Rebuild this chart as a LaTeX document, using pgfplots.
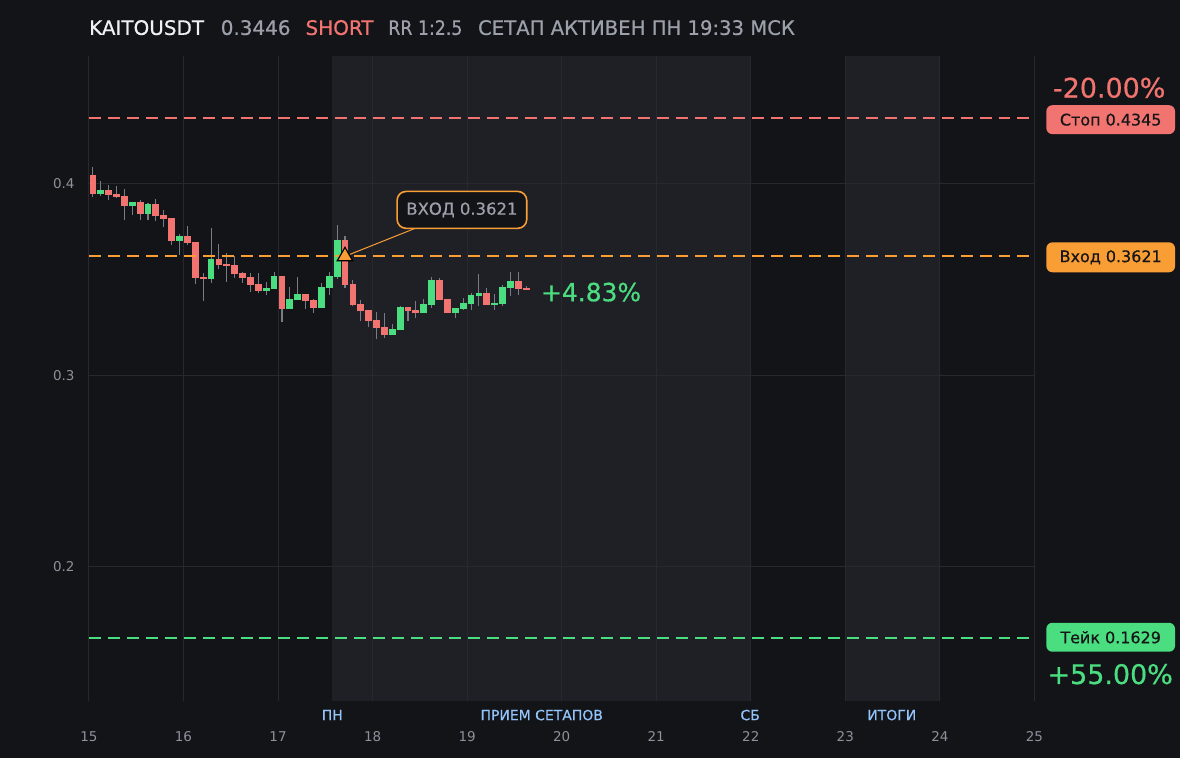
\documentclass[border=0pt]{standalone}
\usepackage{pgfplots}
\pgfplotsset{compat=1.18}
\usepackage{pgfplotstable}
\usepackage{fontspec}
\setmainfont{DejaVu Sans}
\newfontfamily\semib{DejaVu Sans}[FakeBold=0.6]

\definecolor{bg}{RGB}{19,20,24}
\definecolor{shade}{RGB}{31,32,38}
\definecolor{gridc}{RGB}{40,41,47}
\definecolor{redc}{RGB}{242,116,112}
\definecolor{greenc}{RGB}{74,222,128}
\definecolor{orangec}{RGB}{249,158,53}
\definecolor{textgray}{RGB}{156,160,170}
\definecolor{tickc}{RGB}{140,145,155}
\definecolor{bluec}{RGB}{147,197,253}
\definecolor{wickc}{RGB}{120,124,133}
\definecolor{boxtext}{RGB}{22,22,24}
\definecolor{titlewhite}{RGB}{240,240,242}

% 2h candles, x = day of month
\pgfplotstableread{
x o h l c
15.125 0.3946 0.4012 0.3936 0.3966
15.458 0.3883 0.3903 0.3836 0.3903
15.625 0.3842 0.3897 0.3810 0.3892
15.958 0.3701 0.3736 0.3628 0.3726
16.292 0.3503 0.3767 0.3482 0.3606
16.875 0.3439 0.3486 0.3418 0.3455
16.958 0.3450 0.3538 0.3450 0.3517
17.125 0.3346 0.3460 0.3346 0.3398
17.208 0.3393 0.3512 0.3392 0.3424
17.458 0.3350 0.3480 0.3350 0.3460
17.542 0.3455 0.3538 0.3418 0.3517
17.625 0.3512 0.3783 0.3502 0.3705
18.208 0.3210 0.3267 0.3210 0.3241
18.292 0.3236 0.3361 0.3236 0.3355
18.542 0.3324 0.3397 0.3324 0.3371
18.625 0.3366 0.3512 0.3350 0.3496
18.875 0.3324 0.3350 0.3298 0.3350
18.958 0.3345 0.3402 0.3340 0.3376
19.042 0.3371 0.3429 0.3340 0.3418
19.125 0.3413 0.3528 0.3361 0.3429
19.292 0.3366 0.3423 0.3340 0.3376
19.375 0.3371 0.3470 0.3361 0.3460
19.458 0.3455 0.3538 0.3413 0.3491
}\upcandles

\pgfplotstableread{
x o h l c
15.042 0.4048 0.4085 0.3930 0.3946
15.208 0.3966 0.3991 0.3915 0.3941
15.292 0.3944 0.3986 0.3925 0.3930
15.375 0.3934 0.3970 0.3810 0.3883
15.542 0.3903 0.3913 0.3810 0.3842
15.708 0.3892 0.3918 0.3805 0.3831
15.792 0.3835 0.3861 0.3774 0.3816
15.875 0.3819 0.3819 0.3680 0.3701
16.042 0.3726 0.3778 0.3680 0.3691
16.125 0.3694 0.3694 0.3477 0.3508
16.208 0.3514 0.3534 0.3389 0.3503
16.375 0.3606 0.3684 0.3554 0.3574
16.458 0.3579 0.3637 0.3488 0.3569
16.542 0.3574 0.3621 0.3507 0.3528
16.625 0.3532 0.3538 0.3481 0.3507
16.708 0.3512 0.3533 0.3434 0.3470
16.792 0.3475 0.3533 0.3429 0.3439
17.042 0.3517 0.3517 0.3278 0.3346
17.292 0.3424 0.3424 0.3345 0.3387
17.375 0.3392 0.3400 0.3324 0.3350
17.708 0.3705 0.3725 0.3455 0.3470
17.792 0.3475 0.3496 0.3360 0.3366
17.875 0.3371 0.3392 0.3282 0.3334
17.958 0.3339 0.3339 0.3252 0.3282
18.042 0.3288 0.3330 0.3189 0.3246
18.125 0.3251 0.3324 0.3194 0.3210
18.375 0.3355 0.3355 0.3282 0.3334
18.458 0.3339 0.3387 0.3298 0.3324
18.708 0.3496 0.3507 0.3394 0.3394
18.792 0.3397 0.3397 0.3324 0.3324
19.208 0.3429 0.3455 0.3366 0.3366
19.542 0.3491 0.3538 0.3418 0.3449
19.625 0.3455 0.3465 0.3444 0.3446
}\downcandles

\pgfplotsset{
  candle/.style 2 args={only marks, mark=*, mark size=0pt,
    mark options={draw=none, fill=none},
    error bars/.cd, y dir=plus, y explicit, error mark=none,
    error bar style={draw=#1, line width=#2}},
}

\begin{document}
\pagecolor{bg}
\begin{tikzpicture}
\path (0pt,0pt) rectangle (1180pt,760pt);

\begin{axis}[
  at={(86pt,57pt)}, anchor=south west,
  scale only axis, width=948pt, height=647pt,
  xmin=15, xmax=25, ymin=0.1298, ymax=0.4668,
  xtick={15,16,...,25}, ytick={0.2,0.3,0.4},
  grid=major, grid style={draw=gridc, line width=1pt},
  axis line style={draw=none}, major tick length=0pt,
  tick label style={font=\fontsize{13.5}{16}\selectfont, text=tickc},
  xticklabel style={yshift=-27pt},
  yticklabel style={xshift=-11pt, /pgf/number format/.cd, fixed, precision=1},
  /pgf/number format/assume math mode=true,
  set layers, clip=false,
]
% shaded sessions
\addplot[fill=shade, draw=none, on layer=axis background] coordinates
  {(17.574,0.1298) (22,0.1298) (22,0.4668) (17.574,0.4668)} -- cycle;
\addplot[fill=shade, draw=none, on layer=axis background] coordinates
  {(23,0.1298) (24,0.1298) (24,0.4668) (23,0.4668)} -- cycle;

% wicks
\addplot[candle={wickc}{1.1pt}]
  table[x=x, y=l, y error expr=\thisrow{h}-\thisrow{l}] {\upcandles};
\addplot[candle={wickc}{1.1pt}]
  table[x=x, y=l, y error expr=\thisrow{h}-\thisrow{l}] {\downcandles};
% bodies
\addplot[candle={greenc}{6.8pt}]
  table[x=x, y=o, y error expr=\thisrow{c}-\thisrow{o}] {\upcandles};
\addplot[candle={redc}{6.8pt}]
  table[x=x, y=c, y error expr=\thisrow{o}-\thisrow{c}] {\downcandles};

% levels
\addplot[redc, line width=2pt, dash pattern=on 12pt off 7pt] coordinates {(15,0.4345) (25,0.4345)};
\addplot[orangec, line width=2pt, dash pattern=on 12pt off 7pt] coordinates {(15,0.3621) (25,0.3621)};
\addplot[greenc, line width=2pt, dash pattern=on 12pt off 7pt] coordinates {(15,0.1629) (25,0.1629)};

% entry annotation
\draw[orangec, line width=1pt] (axis cs:17.708,0.3621) -- (axis cs:18.45,0.3767);
\node[draw=orangec, line width=1.6pt, rounded corners=9pt, fill=bg, text=textgray,
  font=\semib\fontsize{16.5}{20}\selectfont, minimum width=130pt, minimum height=37pt]
  at (axis cs:18.945,0.38635) {ВХОД 0.3621};
\addplot[only marks, mark=triangle*, mark size=9pt,
  mark options={fill=orangec, draw=black, line width=1.2pt}] coordinates {(17.708,0.3621)};

\node[anchor=west, inner sep=0pt, text=greenc, font=\semib\fontsize{25}{28}\selectfont]
  at (axis cs:19.78,0.3434) {+4.83\%};
\end{axis}

% title
\begin{scope}[every node/.style={anchor=base west, inner sep=0pt, font=\semib\fontsize{20}{24}\selectfont}]
\node[text=titlewhite] at (86pt,725pt) {KAITOUSDT};
\node[text=textgray] at (218pt,725pt) {0.3446};
\node[text=redc] at (303pt,725pt) {SHORT};
\node[text=textgray] at (386pt,725pt) {\scalebox{0.87}[1]{RR 1:2.5}};
\node[text=textgray] at (476pt,725pt) {\scalebox{0.985}[1]{СЕТАП АКТИВЕН ПН 19:33 МСК}};
\end{scope}

% right column
\node[text=redc, font=\semib\fontsize{27}{30}\selectfont] at (1109pt,672pt) {-20.00\%};
\node[fill=redc, rounded corners=6pt, minimum width=129pt, minimum height=29pt,
  text=boxtext, font=\semib\fontsize{16}{18}\selectfont] at (1110.5pt,640pt) {Стоп 0.4345};
\node[fill=orangec, rounded corners=6pt, minimum width=129pt, minimum height=30pt,
  text=boxtext, font=\semib\fontsize{16}{18}\selectfont] at (1110.5pt,502pt) {Вход 0.3621};
\node[fill=greenc, rounded corners=6pt, minimum width=129pt, minimum height=29pt,
  text=boxtext, font=\semib\fontsize{16}{18}\selectfont] at (1110.5pt,121pt) {Тейк 0.1629};
\node[text=greenc, font=\semib\fontsize{27}{30}\selectfont] at (1110pt,84pt) {+55.00\%};

% session labels
\begin{scope}[every node/.style={text=bluec, font=\semib\fontsize{14}{16}\selectfont}]
\node at (330pt,43pt) {ПН};
\node at (540pt,43pt) {ПРИЕМ СЕТАПОВ};
\node at (749pt,43pt) {СБ};
\node at (891pt,43pt) {ИТОГИ};
\end{scope}
\end{tikzpicture}
\end{document}
